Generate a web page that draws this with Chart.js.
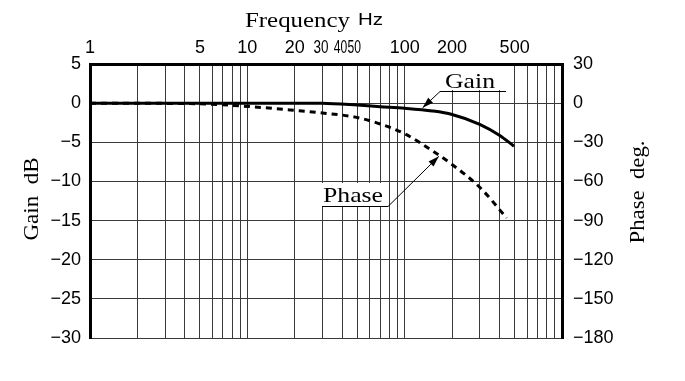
<!DOCTYPE html>
<html><head><meta charset="utf-8">
<script src="https://cdn.jsdelivr.net/npm/chart.js@4"></script>
<style>html,body{margin:0;padding:0;background:#fff}#wrap{width:685px;height:381px}</style>
</head><body><div id="wrap"><canvas id="c" width="685" height="381"></canvas></div>
<script>
// ---- data ----
const gainFreq = [1, 10, 20, 30, 50, 70, 100, 150, 200, 300, 400, 495];
const gainDb   = [0, 0, 0, -0.02, -0.25, -0.45, -0.65, -1.0, -1.45, -2.7, -4.1, -5.5];
const phaseFreq = [1, 5, 10, 20, 30, 50, 70, 100, 150, 200, 300, 445];
const phaseDeg  = [0, -0.5, -2.5, -5.5, -7.5, -11, -16, -23.5, -36.5, -47, -64.5, -88];
const xTickLabels = [1, 5, 10, 20, 30, 40, 50, 100, 200, 500];
const xNarrowLabels = [30, 40, 50];   // printed condensed in the reference
const gainTicks = [5, 0, -5, -10, -15, -20, -25, -30];
const phaseTicks = [30, 0, -30, -60, -90, -120, -150, -180];

const gridFreqs = [];
for (const d of [1, 10, 100]) for (let m = 1; m <= 9; m++) gridFreqs.push(m * d);
gridFreqs.push(1000);

const SERIF = '"Liberation Serif", "Times New Roman", serif';
const SANS = '"Liberation Sans", Arial, sans-serif';
const fmt = v => (v < 0 ? '\u2212' + Math.abs(v) : String(v));

// text stretched horizontally to a given width
function textW(ctx, text, x, y, font, width, align, rot) {
  ctx.save();
  ctx.font = font;
  const w = ctx.measureText(text).width;
  const k = width / w;
  ctx.translate(x, y);
  if (rot) ctx.rotate(rot);
  ctx.scale(k, 1);
  ctx.textAlign = align || 'left';
  ctx.textBaseline = 'alphabetic';
  ctx.fillText(text, 0, 0);
  ctx.restore();
}

function drawArrow(ctx, x0, y0, x1, y1) {
  ctx.beginPath(); ctx.moveTo(x0, y0); ctx.lineTo(x1, y1); ctx.stroke();
  const a = Math.atan2(y1 - y0, x1 - x0), L = 11, W = 3.5;
  ctx.beginPath();
  ctx.moveTo(x1, y1);
  ctx.lineTo(x1 - L * Math.cos(a) + W * Math.sin(a), y1 - L * Math.sin(a) - W * Math.cos(a));
  ctx.lineTo(x1 - L * Math.cos(a) - W * Math.sin(a), y1 - L * Math.sin(a) + W * Math.cos(a));
  ctx.closePath(); ctx.fill();
}

const annot = {
  id: 'annot',
  afterDraw(chart) {
    const ctx = chart.ctx, sx = chart.scales.x, sy = chart.scales.y, sy2 = chart.scales.y2;
    ctx.save();
    ctx.fillStyle = '#000'; ctx.strokeStyle = '#000'; ctx.lineWidth = 1;
    // condensed x tick labels (30, 40, 50)
    const shift = { 30: -1.5, 40: -1.5, 50: -3 }, wid = { 30: 15, 40: 13.5, 50: 13.5 };
    for (const v of xNarrowLabels) {
      textW(ctx, String(v), sx.getPixelForValue(v) + shift[v], 53, '18px ' + SANS, wid[v], 'center');
    }
    // axis titles
    textW(ctx, 'Frequency', 245, 27, '22px ' + SERIF, 105, 'left');
    textW(ctx, 'Hz', 358, 25, '16px ' + SANS, 25, 'left');
    textW(ctx, 'Gain  dB', 38, 199, '22px ' + SERIF, 83, 'center', -Math.PI / 2);
    textW(ctx, 'Phase  deg.', 644, 192, '22px ' + SERIF, 103, 'center', -Math.PI / 2);

    // Gain label
    ctx.fillStyle = '#fff'; ctx.fillRect(440, 66, 66, 24);
    ctx.fillStyle = '#000';
    textW(ctx, 'Gain', 445, 88, '22px ' + SERIF, 50, 'left');
    ctx.beginPath(); ctx.moveTo(440, 91.5); ctx.lineTo(506, 91.5); ctx.stroke();
    const gx = sx.getPixelForValue(130), gy = sy.getPixelForValue(-0.85) - 2;
    drawArrow(ctx, 440, 91.5, gx, gy);

    // Phase label
    ctx.fillStyle = '#fff'; ctx.fillRect(322, 183, 67, 23);
    ctx.fillStyle = '#000';
    textW(ctx, 'Phase', 323, 202, '22px ' + SERIF, 60, 'left');
    ctx.beginPath(); ctx.moveTo(322, 206.5); ctx.lineTo(388, 206.5); ctx.stroke();
    const px = sx.getPixelForValue(165), py = sy2.getPixelForValue(-40) + 1;
    drawArrow(ctx, 388, 206.5, px, py);
    ctx.restore();
  }
};

new Chart(document.getElementById('c'), {
  type: 'line',
  data: {
    datasets: [
      { label: 'Gain', data: gainFreq.map((f, i) => ({ x: f, y: gainDb[i] })), yAxisID: 'y',
        borderColor: '#000', borderWidth: 3, pointRadius: 0, fill: false, cubicInterpolationMode: 'monotone' },
      { label: 'Phase', data: phaseFreq.map((f, i) => ({ x: f, y: phaseDeg[i] })), yAxisID: 'y2',
        borderColor: '#000', borderWidth: 3, borderDash: [6, 5], pointRadius: 0, fill: false, cubicInterpolationMode: 'monotone' }
    ]
  },
  options: {
    responsive: false, animation: false, devicePixelRatio: 1,
    layout: { padding: { left: 0, right: 0, top: 0, bottom: 43 } },
    plugins: { legend: { display: false }, tooltip: { enabled: false } },
    scales: {
      x: {
        type: 'logarithmic', position: 'top', min: 1, max: 1000,
        afterBuildTicks: s => { s.ticks = gridFreqs.map(v => ({ value: v })); },
        afterFit: s => { s.height = 64; },
        grid: { color: '#3a3a3a', lineWidth: 1, drawTicks: false },
        border: { display: true, color: '#000', width: 3 },
        ticks: {
          autoSkip: false, maxRotation: 0, minRotation: 0, padding: 5, color: '#000',
          font: { family: SANS, size: 18 },
          callback: v => (xTickLabels.includes(v) && !xNarrowLabels.includes(v) ? String(v) : '')
        }
      },
      y: {
        position: 'left', min: -30, max: 5,
        afterBuildTicks: s => { s.ticks = gainTicks.map(v => ({ value: v })); },
        afterFit: s => { s.width = 90; },
        grid: { color: '#3a3a3a', lineWidth: 1, drawTicks: false },
        border: { display: true, color: '#000', width: 3 },
        ticks: { padding: 9, color: '#000', font: { family: SANS, size: 18 }, callback: v => fmt(v) }
      },
      y2: {
        position: 'right', min: -180, max: 30,
        afterBuildTicks: s => { s.ticks = phaseTicks.map(v => ({ value: v })); },
        afterFit: s => { s.width = 123; },
        grid: { drawOnChartArea: false, drawTicks: false },
        border: { display: true, color: '#000', width: 3 },
        ticks: { padding: 11, color: '#000', font: { family: SANS, size: 18 }, callback: v => fmt(v) }
      }
    }
  },
  plugins: [annot]
});
</script>
</body></html>
